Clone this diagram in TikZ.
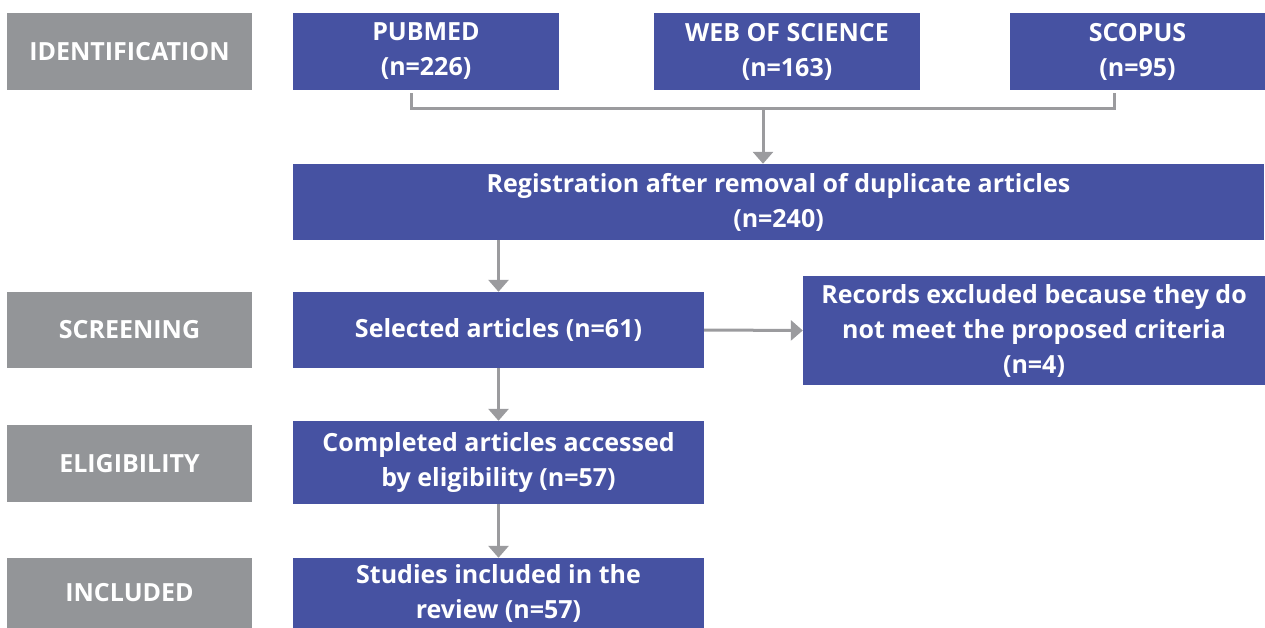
\documentclass[tikz,border=0pt]{standalone}
\usepackage{fontspec}
\setmainfont{Open Sans}
\usepackage{tikz}
\usetikzlibrary{arrows.meta,positioning}

\definecolor{stageblue}{RGB}{70,82,162}
\definecolor{stagegray}{RGB}{147,149,152}
\definecolor{linkgray}{RGB}{155,155,158}

\tikzset{
  box/.style={rectangle, fill=stageblue, text=white, align=center, inner sep=0pt,
    font=\fontsize{25}{35}\selectfont\bfseries},
  stage/.style={rectangle, fill=stagegray, text=white, align=center, inner sep=0pt,
    minimum width=245pt, font=\fontsize{25}{35}\selectfont\bfseries},
  link/.style={draw=linkgray, line width=3pt},
  arr/.style={link, -{Triangle[width=20pt,length=12pt]}},
}

\begin{document}
\begin{tikzpicture}[x=1pt,y=-1pt]
  \useasboundingbox (0,0) rectangle (1265,628);

  % stages on the left
  \node[stage, minimum height=77pt] (ident)  at (129.5,51.5) {IDENTIFICATION};
  \node[stage, minimum height=76pt] (screen) at (129.5,330)  {SCREENING};
  \node[stage, minimum height=77pt] (elig)   at (129.5,463.5) {ELIGIBILITY};
  \node[stage, minimum height=70pt] (incl)   at (129.5,593)  {INCLUDED};

  % databases
  \node[box, minimum width=266pt, minimum height=77pt] (pubmed) at (426,51.5) {PUBMED\\(n=226)};
  \node[box, minimum width=266pt, minimum height=77pt] (wos)    at (787,51.5) {WEB OF SCIENCE\\(n=163)};
  \node[box, minimum width=255pt, minimum height=77pt] (scopus) at (1137.5,51.5) {SCOPUS\\(n=95)};

  \node[box, minimum width=971pt, minimum height=76pt] (reg) at (778.5,202)
    {Registration after removal of duplicate articles\\(n=240)};
  \node[box, minimum width=411pt, minimum height=76pt] (sel) at (498.5,330)
    {Selected articles (n=61)};
  \node[box, minimum width=462pt, minimum height=109pt] (excl) at (1034,330.5)
    {Records excluded because they do\\not meet the proposed criteria\\(n=4)};
  \node[box, minimum width=411pt, minimum height=83pt] (compl) at (498.5,462.5)
    {Completed articles accessed\\by eligibility (n=57)};
  \node[box, minimum width=411pt, minimum height=70pt] (stud) at (498.5,593)
    {Studies included in the\\review (n=57)};

  % connectors
  \coordinate (join) at (763,109);
  \draw[link] ([xshift=-15pt,yshift=-3pt]pubmed.south) |- (join)
    -| ([xshift=-23.5pt,yshift=-3pt]scopus.south);
  \draw[arr] (join) -- (join |- reg.north);
  \draw[arr] (sel.north |- reg.south) -- (sel.north);
  \draw[arr] (sel.east) -- (excl.west);
  \draw[arr] (sel.south) -- (compl.north);
  \draw[arr] (compl.south) -- (stud.north);
\end{tikzpicture}
\end{document}
